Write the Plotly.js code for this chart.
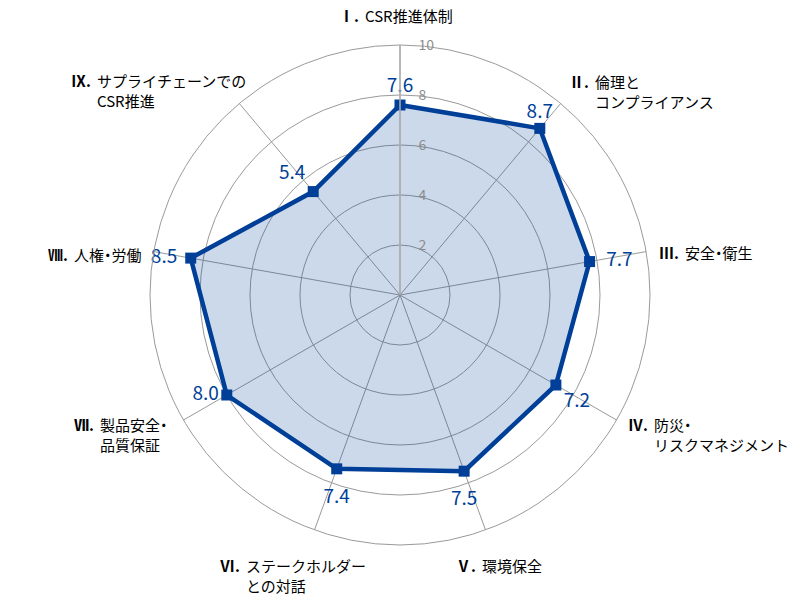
<!DOCTYPE html>
<html>
<head>
<meta charset="utf-8">
<script src="https://cdn.plot.ly/plotly-3.0.1.min.js"></script>
<style>html,body{margin:0;padding:0;background:#fff;}#chart{width:800px;height:600px;}</style>
</head>
<body>
<div id="chart"></div>
<script>
// ---- data ----
const numerals = ["Ⅰ.", "Ⅱ.", "Ⅲ.", "Ⅳ.", "Ⅴ.", "Ⅵ.", "Ⅶ.", "Ⅷ.", "Ⅸ."];
const categories = ["CSR推進体制", "倫理とコンプライアンス", "安全・衛生", "防災・リスクマネジメント",
  "環境保全", "ステークホルダーとの対話", "製品安全・品質保証", "人権・労働", "サプライチェーンでのCSR推進"];
const labelLines = ["CSR推進体制", "倫理と<br>コンプライアンス", "安全・衛生", "防災・<br>リスクマネジメント",
  "環境保全", "ステークホルダー<br>との対話", "製品安全・<br>品質保証", "人権・労働", "サプライチェーンでの<br>CSR推進"];
const values = [7.6, 8.7, 7.7, 7.2, 7.5, 7.4, 8.0, 8.5, 5.4];
const radialTicks = [2, 4, 6, 8, 10];

// ---- layout / style constants ----
// pixel position of each category label: x where the text starts (after the numeral), y of first-line centre
const labelPos = [[363, 13], [593, 79], [683, 250], [652, 422], [480, 563], [244, 563], [98, 422], [72, 252], [95, 78]];
const valuePos = ["top center", "top center", "middle right", "bottom right", "bottom center",
  "bottom center", "middle left", "middle left", "top left"];
// invisible marker sizes used only to push each value label away from its point
const valueGap = [11, 8, 25, 11, 30, 30, 11, 20, 11];

const W = 800, H = 600;
const blue = "#003f98";
const font = "'Noto Sans CJK JP', 'Noto Sans', sans-serif";

const closedR = values.concat([values[0]]);
const closedT = categories.concat([categories[0]]);

const traces = [
  {
    type: "scatterpolar", r: closedR, theta: closedT, mode: "lines",
    fill: "toself", fillcolor: "rgba(0,63,152,0.2)",
    line: {color: blue, width: 4.5}, hoverinfo: "skip", showlegend: false
  },
  {
    type: "scatterpolar", r: values, theta: categories, mode: "markers",
    marker: {symbol: "square", size: 11, color: blue, line: {width: 0}},
    showlegend: false
  },
  {
    type: "scatterpolar", r: values, theta: categories, mode: "markers+text",
    marker: {symbol: "square", size: valueGap, color: "rgba(0,0,0,0)", line: {width: 0, color: "rgba(0,0,0,0)"}},
    text: values.map(v => v.toFixed(1)), textposition: valuePos,
    textfont: {family: font, size: 19, color: blue},
    cliponaxis: false, showlegend: false
  }
];

// narrow (proportional) middle dot, as in the original labels
const narrowDot = s => s.replace(/・/g, "<span style=\"font-feature-settings:'palt' 1\">・</span>");

const annotations = [];
labelPos.forEach((p, i) => {
  const y = 1 - (p[1] - 10) / H;
  annotations.push({
    xref: "paper", yref: "paper", x: (p[0] - 2) / W, y: y, xanchor: "right", yanchor: "top",
    text: "<b>" + numerals[i] + "</b>", showarrow: false, font: {family: font, size: 15, color: "#000"}
  });
  annotations.push({
    xref: "paper", yref: "paper", x: p[0] / W, y: y, xanchor: "left", yanchor: "top", align: "left",
    text: narrowDot(labelLines[i]), showarrow: false, font: {family: font, size: 15, color: "#000"}
  });
});

const layout = {
  width: W, height: H,
  margin: {l: 0, r: 0, t: 0, b: 0},
  paper_bgcolor: "#fff",
  showlegend: false,
  font: {family: font},
  polar: {
    domain: {x: [150 / W, 650 / W], y: [55 / H, 555 / H]},
    bgcolor: "rgba(0,0,0,0)",
    radialaxis: {
      range: [0, 10], tickvals: radialTicks, ticktext: radialTicks.map(String),
      angle: 90, tickangle: 90, side: "clockwise",
      ticks: "outside", ticklen: 15, tickcolor: "rgba(0,0,0,0)",
      showline: true, linecolor: "#b0b0b0", linewidth: 1.5,
      gridcolor: "#9a9a9a", gridwidth: 1,
      tickfont: {family: font, size: 14, color: "#8c8c8c"}
    },
    angularaxis: {
      type: "category", categoryarray: categories,
      rotation: 90, direction: "clockwise",
      showticklabels: false, ticks: "",
      showline: true, linecolor: "#9a9a9a", linewidth: 1,
      gridcolor: "#9a9a9a", gridwidth: 1
    }
  },
  annotations: annotations
};

Plotly.newPlot("chart", traces, layout, {displayModeBar: false, staticPlot: true});
</script>
</body>
</html>
